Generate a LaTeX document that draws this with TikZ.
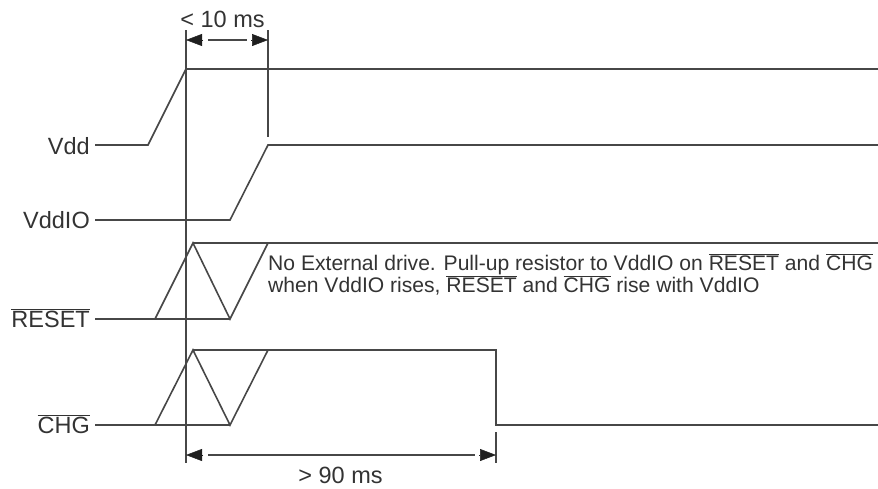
\documentclass[tikz,border=0pt]{standalone}
\usepackage{fontspec}
\setmainfont{Liberation Sans}
\usetikzlibrary{arrows.meta,calc}
\newcommand\ovl[1]{$\overline{\hbox{#1}}$}
\begin{document}
\begin{tikzpicture}[x=1pt,y=-1pt,
  wave/.style={line width=1.6pt, draw=black!72, line join=miter},
  guide/.style={line width=1.6pt, draw=black!72},
  dimline/.style={line width=1.6pt, draw=black!72},
  dimtip/.style={draw=black!88, -{Triangle[length=16pt,width=12pt]}, line width=0.5pt},
  lbl/.style={inner sep=0pt, anchor=base east, text=black!80, font=\fontsize{23.5}{26}\selectfont},
  dimlbl/.style={inner sep=0pt, anchor=base, text=black!80, font=\fontsize{23.5}{26}\selectfont},
  note/.style={inner sep=0pt, anchor=base west, align=left, text=black!80, font=\fontsize{21.1}{22}\selectfont}]
\useasboundingbox (0,0) rectangle (878,488);

% labels
\node[lbl] (vdd) at (90,154) {Vdd};
\node[lbl] (vddio) at (90,228) {VddIO};
\node[lbl] (reset) at (90,327) {\ovl{RESET}};
\node[lbl] (chg) at (90,433) {\ovl{CHG}};

% guide lines
\coordinate (g1t) at (186,30);
\coordinate (g1b) at (186,463);
\coordinate (g2t) at (268,30);
\coordinate (g2b) at (268,137);
\coordinate (g3t) at (496,432);
\coordinate (g3b) at (496,463);
\draw[guide] (g1t) -- (g1b);
\draw[guide] (g2t) -- (g2b);
\draw[guide] (g3t) -- (g3b);

% Vdd
\coordinate (v0) at (95,145);
\coordinate (v1) at (148,145);
\coordinate (v2) at (186,69);
\coordinate (v3) at (878,69);
\draw[wave] (v0) -- (v1) -- (v2) -- (v3);

% VddIO
\coordinate (i0) at (95,220);
\coordinate (i1) at (230,220);
\coordinate (i2) at (268,145);
\coordinate (i3) at (878,145);
\draw[wave] (i0) -- (i1) -- (i2) -- (i3);

% RESET
\coordinate (r0) at (95,319);
\coordinate (r1) at (155,319);
\coordinate (r2) at (193,243);
\coordinate (r3) at (230,319);
\coordinate (r4) at (268,243);
\coordinate (r5) at (878,243);
\draw[wave] (r0) -- (r3);
\draw[wave] (r1) -- (r2) -- (r3) -- (r4);
\draw[wave] (r2) -- (r5);

% CHG
\coordinate (c0) at (95,425);
\coordinate (c1) at (155,425);
\coordinate (c2) at (193,350);
\coordinate (c3) at (230,425);
\coordinate (c4) at (268,350);
\coordinate (c5) at (496,350);
\coordinate (c6) at (496,425);
\coordinate (c7) at (878,425);
\draw[wave] (c0) -- (c3);
\draw[wave] (c1) -- (c2) -- (c3) -- (c4);
\draw[wave] (c2) -- (c5) -- (c6) -- (c7);

% < 10 ms dimension
\coordinate (d1a) at (186,40);
\coordinate (d1b) at (268,40);
\draw[dimline] ($(d1a)+(22,0)$) -- ($(d1b)+(-21,0)$);
\draw[dimtip] ($(d1a)+(17,0)$) -- (d1a);
\draw[dimtip] ($(d1b)+(-17,0)$) -- (d1b);
\node[dimlbl] (t10) at (222.5,27) {< 10 ms};

% > 90 ms dimension
\coordinate (d2a) at (186,455);
\coordinate (d2b) at (496,455);
\draw[dimline] ($(d2a)+(22,0)$) -- ($(d2b)+(-21,0)$);
\draw[dimtip] ($(d2a)+(17,0)$) -- (d2a);
\draw[dimtip] ($(d2b)+(-17,0)$) -- (d2b);
\node[dimlbl] (t90) at (340.5,483) {> 90 ms};

% note
\node[note] (nt) at (268,292) {No External drive. Pull-up resistor to VddIO on \ovl{RESET} and \ovl{CHG}\\when VddIO rises, \ovl{RESET} and \ovl{CHG} rise with VddIO};
\end{tikzpicture}
\end{document}
